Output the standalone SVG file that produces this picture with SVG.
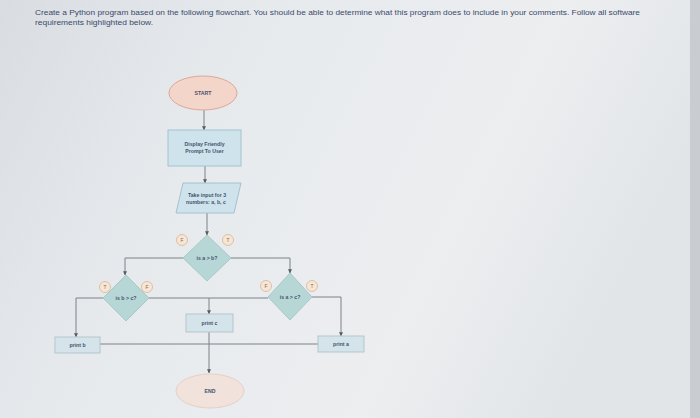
<svg xmlns="http://www.w3.org/2000/svg" width="700" height="418" viewBox="0 0 700 418">
<defs>
<linearGradient id="bg" x1="0" y1="0" x2="1" y2="0.3">
<stop offset="0" stop-color="#d9dde2"/>
<stop offset="0.35" stop-color="#e7eaed"/>
<stop offset="0.75" stop-color="#eceef0"/>
<stop offset="1" stop-color="#e2e5e8"/>
</linearGradient>
<marker id="ah" viewBox="0 0 6 6" refX="5.5" refY="3" markerWidth="4" markerHeight="4" orient="auto">
<path d="M0,0 L6,3 L0,6 z" fill="#555b63"/>
</marker>
<style>
.t{font-family:"Liberation Sans",Arial,sans-serif;fill:#44546e;}
.title{font-size:7.2px;fill:#3a4a6a;}
.nt{font-size:5.2px;font-weight:bold;text-anchor:middle;}
.c{fill:none;stroke:#7d8288;stroke-width:1;}
.a{marker-end:url(#ah);}
.box{fill:#cfe3ec;stroke:#a4c2cf;stroke-width:1;}
.dia{fill:#b7d6d6;stroke:#a9c9c9;stroke-width:1;}
.pr{fill:#d4e4ea;stroke:#b3c6ce;stroke-width:1;}
.lab{fill:#f4e6d8;stroke:#e0b48a;stroke-width:0.8;}
.lt{font-size:5px;text-anchor:middle;fill:#9a6a3a;font-family:"Liberation Sans",Arial,sans-serif;}
</style>
</defs>
<rect width="700" height="418" fill="url(#bg)"/>
<rect x="690" y="0" width="10" height="418" fill="#c9cdd1"/>
<text class="t title" x="35" y="15" textLength="605" lengthAdjust="spacingAndGlyphs">Create a Python program based on the following flowchart. You should be able to determine what this program does to include in your comments. Follow all software</text>
<text class="t title" x="35" y="25" textLength="118" lengthAdjust="spacingAndGlyphs">requirements highlighted below.</text>

<g id="connectors">
<line class="c a" x1="204" y1="110" x2="204" y2="130"/>
<line class="c a" x1="205" y1="166" x2="205" y2="183"/>
<line class="c a" x1="207" y1="213" x2="207" y2="235"/>
<polyline class="c a" points="183,258 125,258 125,275"/>
<polyline class="c a" points="231,258 290,258 290,273"/>
<polyline class="c a" points="104,298 76,298 76,337"/>
<line class="c" x1="149" y1="298" x2="268" y2="298"/>
<line class="c a" x1="209" y1="298" x2="209" y2="314"/>
<polyline class="c a" points="312,297 341,297 341,336"/>
<line class="c" x1="100" y1="344" x2="318" y2="344"/>
<line class="c a" x1="209" y1="332" x2="209" y2="373"/>
</g>

<g id="start">
<ellipse cx="203" cy="93" rx="34" ry="17" fill="#f4d5ca" stroke="#dba99a" stroke-width="1"/>
<text class="t nt" x="203" y="95">START</text>
</g>
<g id="display">
<rect class="box" x="168" y="130" width="73" height="36"/>
<text class="t nt" x="204.5" y="146">Display Friendly</text>
<text class="t nt" x="204.5" y="153">Prompt To User</text>
</g>
<g id="input">
<polygon class="box" points="183,183 241,183 234,213 176,213"/>
<text class="t nt" x="207" y="197">Take input for 3</text>
<text class="t nt" x="206" y="204">numbers: a, b, c</text>
</g>
<g id="d1">
<polygon class="dia" points="207,235 231,258 207,281 183,258"/>
<text class="t nt" x="207" y="260">is a &gt; b?</text>
<circle class="lab" cx="182" cy="240" r="5.5"/><text class="lt" x="182" y="241.8">F</text>
<circle class="lab" cx="228" cy="240" r="5.5"/><text class="lt" x="228" y="241.8">T</text>
</g>
<g id="d2">
<polygon class="dia" points="126,275 149,298 126,321 103,298"/>
<text class="t nt" x="126" y="300">is b &gt; c?</text>
<circle class="lab" cx="105" cy="287" r="5.5"/><text class="lt" x="105" y="288.8">T</text>
<circle class="lab" cx="147" cy="287" r="5.5"/><text class="lt" x="147" y="288.8">F</text>
</g>
<g id="d3">
<polygon class="dia" points="290,273 312,297 290,320 268,297"/>
<text class="t nt" x="290" y="299">is a &gt; c?</text>
<circle class="lab" cx="266" cy="286" r="5.5"/><text class="lt" x="266" y="287.8">F</text>
<circle class="lab" cx="312" cy="286" r="5.5"/><text class="lt" x="312" y="287.8">T</text>
</g>
<g id="printb">
<rect class="pr" x="55" y="337" width="45" height="16"/>
<text class="t nt" x="77.5" y="346.5" font-weight="normal">print b</text>
</g>
<g id="printc">
<rect class="pr" x="186" y="314" width="47" height="18"/>
<text class="t nt" x="209.5" y="324.5" font-weight="normal">print c</text>
</g>
<g id="printa">
<rect class="pr" x="318" y="336" width="46" height="16"/>
<text class="t nt" x="341" y="345.5" font-weight="normal">print a</text>
</g>
<g id="end">
<ellipse cx="210" cy="391" rx="34" ry="17" fill="#f1e2dc" stroke="#e6d0c6" stroke-width="1"/>
<text class="t nt" x="210" y="393">END</text>
</g>
</svg>
